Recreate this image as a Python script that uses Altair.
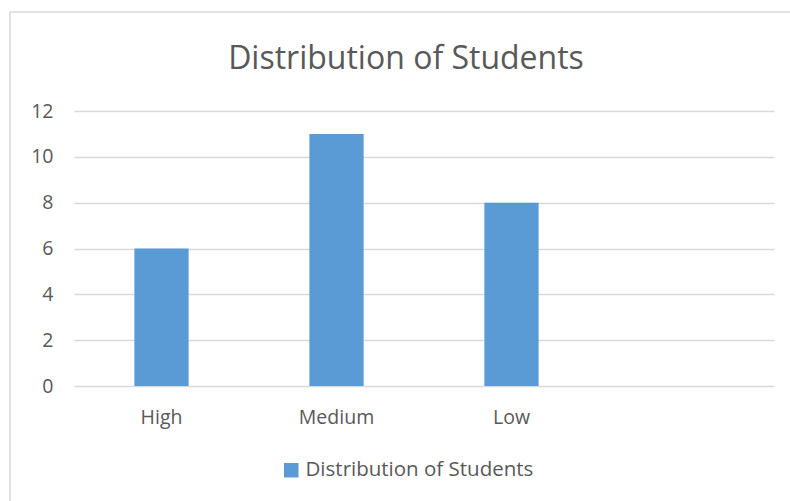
import altair as alt
import pandas as pd

categories = ["High", "Medium", "Low"]
values = [6, 11, 8]
series_name = "Distribution of Students"
title_text = "Distribution of Students"
y_ticks = [0, 2, 4, 6, 8, 10, 12]
x_domain = categories + [" "]

df = pd.DataFrame({"category": categories, "value": values, "series": [series_name] * len(categories)})

FONT = "Open Sans"
TEXT = "#595959"
GRID = "#d9d9d9"

border = alt.Chart(pd.DataFrame({"a": [0]})).mark_rect(
    fillOpacity=0, stroke=GRID, strokeWidth=1.5, clip=False
).encode(
    x=alt.value(-64), x2=alt.value(730), y=alt.value(-99), y2=alt.value(400)
)

bars = alt.Chart(df).mark_bar(color="#5b9bd5").encode(
    x=alt.X("category:N", sort=x_domain,
            scale=alt.Scale(domain=x_domain, paddingInner=0.69, paddingOuter=0.345),
            axis=alt.Axis(title=None, domain=False, ticks=False, labelAngle=0,
                          labelFont=FONT, labelFontSize=19.5, labelColor=TEXT, labelPadding=22)),
    y=alt.Y("value:Q", scale=alt.Scale(domain=[0, 12], nice=False),
            axis=alt.Axis(title=None, domain=False, ticks=False, values=y_ticks,
                          grid=True, gridColor=GRID, gridWidth=1.5,
                          labelFont=FONT, labelFontSize=19.5, labelColor=TEXT, labelPadding=21)),
    color=alt.Color("series:N", scale=alt.Scale(domain=[series_name], range=["#5b9bd5"]),
                    legend=alt.Legend(title=None, orient="none", legendX=207, legendY=349,
                                      symbolType="square", symbolSize=210, symbolStrokeWidth=0,
                                      labelFont=FONT, labelFontSize=20.5, labelColor=TEXT,
                                      labelOffset=4, labelLimit=400)),
)

chart = alt.layer(border, bars).properties(
    width=700, height=275,
    padding={"left": 74, "top": 111, "right": 16, "bottom": 115},
    autosize=alt.AutoSizeParams(type="none"),
    background="white",
    title=alt.TitleParams(title_text, font=FONT, fontSize=32, fontWeight="normal",
                          color=TEXT, anchor="middle", dx=-18, offset=-65),
).configure_view(stroke=None)

chart.save("out.html", embed_options={"renderer": "svg", "actions": False})
